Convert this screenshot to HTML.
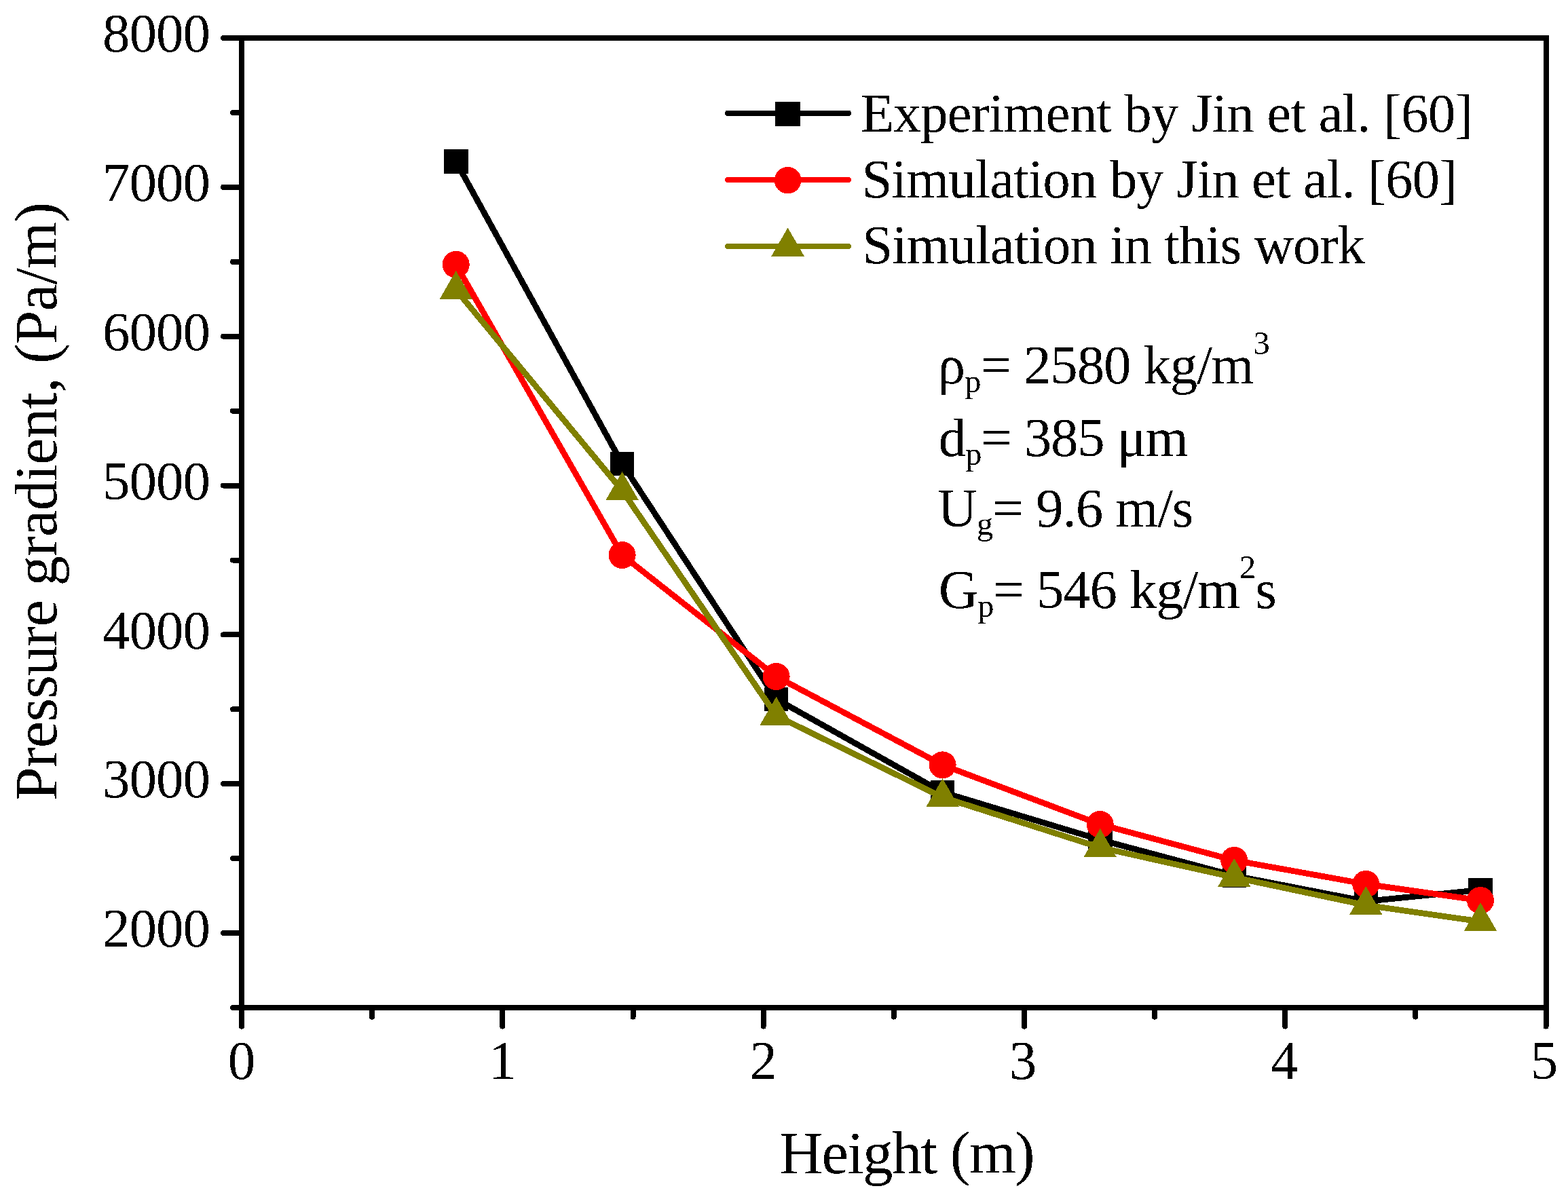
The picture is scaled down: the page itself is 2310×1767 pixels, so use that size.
<!DOCTYPE html>
<html><head><meta charset="utf-8"><title>Pressure gradient vs Height</title>
<style>html,body{margin:0;padding:0;background:#fff;overflow:hidden}svg{display:block}</style>
</head><body>
<svg width="2310" height="1767" viewBox="0 0 2310 1767" shape-rendering="crispEdges" style="font-family:'Liberation Serif', 'Times New Roman', serif" fill="#000">
<defs><filter id="bin" x="-0.05" y="-0.1" width="1.1" height="1.2" color-interpolation-filters="sRGB"><feComponentTransfer><feFuncA type="discrete" tableValues="0 1"/></feComponentTransfer></filter></defs>
<rect x="356.0" y="56.0" width="1921.5" height="1429.0" fill="none" stroke="#000" stroke-width="8"/>
<path d="M356.0 1485.0V1512.6M740.3 1485.0V1512.6M1124.6 1485.0V1512.6M1508.9 1485.0V1512.6M1893.2 1485.0V1512.6M2277.5 1485.0V1512.6M548.1 1485.0V1498.6M932.5 1485.0V1498.6M1316.8 1485.0V1498.6M1701.0 1485.0V1498.6M2085.3 1485.0V1498.6M356.0 1375.1H329.0M356.0 1155.2H329.0M356.0 935.4H329.0M356.0 715.5H329.0M356.0 495.7H329.0M356.0 275.8H329.0M356.0 56.0H329.0M356.0 1485.0H343.0M356.0 1265.2H343.0M356.0 1045.3H343.0M356.0 825.5H343.0M356.0 605.6H343.0M356.0 385.8H343.0M356.0 165.9H343.0" stroke="#000" stroke-width="8" stroke-linecap="round" fill="none"/>
<g font-size="81" filter="url(#bin)"><text x="309" y="1395.3" text-anchor="end" letter-spacing="-1">2000</text><text x="309" y="1175.4" text-anchor="end" letter-spacing="-1">3000</text><text x="309" y="955.6" text-anchor="end" letter-spacing="-1">4000</text><text x="309" y="735.7" text-anchor="end" letter-spacing="-1">5000</text><text x="309" y="515.9" text-anchor="end" letter-spacing="-1">6000</text><text x="309" y="296.0" text-anchor="end" letter-spacing="-1">7000</text><text x="309" y="76.2" text-anchor="end" letter-spacing="-1">8000</text><text x="356.0" y="1589.6" text-anchor="middle">0</text><text x="740.3" y="1589.6" text-anchor="middle">1</text><text x="1124.6" y="1589.6" text-anchor="middle">2</text><text x="1506.9" y="1589.6" text-anchor="middle">3</text><text x="1892.2" y="1589.6" text-anchor="middle">4</text><text x="2275.0" y="1589.6" text-anchor="middle">5</text></g>
<text x="1148" y="1728.5" font-size="89" letter-spacing="-1.81" filter="url(#bin)">Height (m)</text>
<g filter="url(#bin)"><text transform="translate(83,1179.7) rotate(-90)" font-size="89" letter-spacing="-0.85">Pressure gradient, (Pa/m)</text></g>
<polyline points="671.7,238.0 916.6,683.3 1143.6,1030.2 1388.6,1167.5 1620.7,1237.6 1818.2,1290.5 2012.2,1328.3 2181.0,1311.6" fill="none" stroke="#000" stroke-width="8.8" stroke-linejoin="round"/>
<g fill="#000"><rect x="654.0" y="220.2" width="35.5" height="35.5"/><rect x="898.9" y="665.5" width="35.5" height="35.5"/><rect x="1125.8" y="1012.5" width="35.5" height="35.5"/><rect x="1370.8" y="1149.8" width="35.5" height="35.5"/><rect x="1603.0" y="1219.8" width="35.5" height="35.5"/><rect x="1800.5" y="1272.8" width="35.5" height="35.5"/><rect x="1994.5" y="1310.5" width="35.5" height="35.5"/><rect x="2163.2" y="1293.8" width="35.5" height="35.5"/></g>
<polyline points="671.7,389.8 916.6,818.1 1143.6,997.0 1388.6,1127.4 1620.7,1214.9 1818.2,1267.9 2012.2,1302.9 2181.0,1327.0" fill="none" stroke="#f00" stroke-width="8.8" stroke-linejoin="round"/>
<g fill="#f00"><circle cx="671.7" cy="389.8" r="20"/><circle cx="916.6" cy="818.1" r="20"/><circle cx="1143.6" cy="997.0" r="20"/><circle cx="1388.6" cy="1127.4" r="20"/><circle cx="1620.7" cy="1214.9" r="20"/><circle cx="1818.2" cy="1267.9" r="20"/><circle cx="2012.2" cy="1302.9" r="20"/><circle cx="2181.0" cy="1327.0" r="20"/></g>
<polyline points="671.7,427.0 916.6,723.0 1143.6,1054.8 1388.6,1175.0 1620.7,1249.0 1818.2,1293.0 2012.2,1334.0 2181.0,1358.0" fill="none" stroke="#808000" stroke-width="8.8" stroke-linejoin="round"/>
<g fill="#808000"><polygon points="671.7,399.0 695.9,441.0 647.5,441.0"/><polygon points="916.6,695.0 940.8,737.0 892.4,737.0"/><polygon points="1143.6,1026.8 1167.8,1068.8 1119.4,1068.8"/><polygon points="1388.6,1147.0 1412.8,1189.0 1364.4,1189.0"/><polygon points="1620.7,1221.0 1644.9,1263.0 1596.5,1263.0"/><polygon points="1818.2,1265.0 1842.4,1307.0 1794.0,1307.0"/><polygon points="2012.2,1306.0 2036.4,1348.0 1988.0,1348.0"/><polygon points="2181.0,1330.0 2205.2,1372.0 2156.8,1372.0"/></g>
<path d="M1072 166.8H1250" stroke="#000" stroke-width="8" stroke-linecap="round"/>
<rect x="1142.2" y="150.0" width="36.8" height="36" fill="#000"/>
<path d="M1072 265H1250" stroke="#f00" stroke-width="8" stroke-linecap="round"/>
<circle cx="1160.6" cy="265.7" r="19.8" fill="#f00"/>
<path d="M1072 363H1250" stroke="#808000" stroke-width="8" stroke-linecap="round"/>
<polygon points="1160.6,335.5 1184.8,377.5 1136.4,377.5" fill="#808000"/>
<g font-size="81" filter="url(#bin)"><text x="1267.7" y="193.5" letter-spacing="-0.86">Experiment by Jin et al. [60]</text><text x="1269.5" y="291.3" letter-spacing="-0.96">Simulation by Jin et al. [60]</text><text x="1270.2" y="388.2" letter-spacing="-1.0">Simulation in this work</text></g>
<g font-size="81" filter="url(#bin)"><text x="1381.8" y="565" letter-spacing="-1.16">ρ<tspan font-size="49" dy="12.8">p</tspan><tspan dy="-12.8">= 2580 kg/m</tspan><tspan font-size="49" dy="-43.5">3</tspan></text><text x="1382.7" y="672.4" letter-spacing="-1.23">d<tspan font-size="49" dy="12.8">p</tspan><tspan dy="-12.8">= 385 μm</tspan></text><text x="1381.3" y="775.5" letter-spacing="-1.04">U<tspan font-size="49" dy="12.8">g</tspan><tspan dy="-12.8">= 9.6 m/s</tspan></text><text x="1382.7" y="895.8" letter-spacing="-1.17">G<tspan font-size="49" dy="12.8">p</tspan><tspan dy="-12.8">= 546 kg/m</tspan><tspan font-size="49" dy="-43.5">2</tspan><tspan dy="43.5">s</tspan></text></g>
</svg>
</body></html>
